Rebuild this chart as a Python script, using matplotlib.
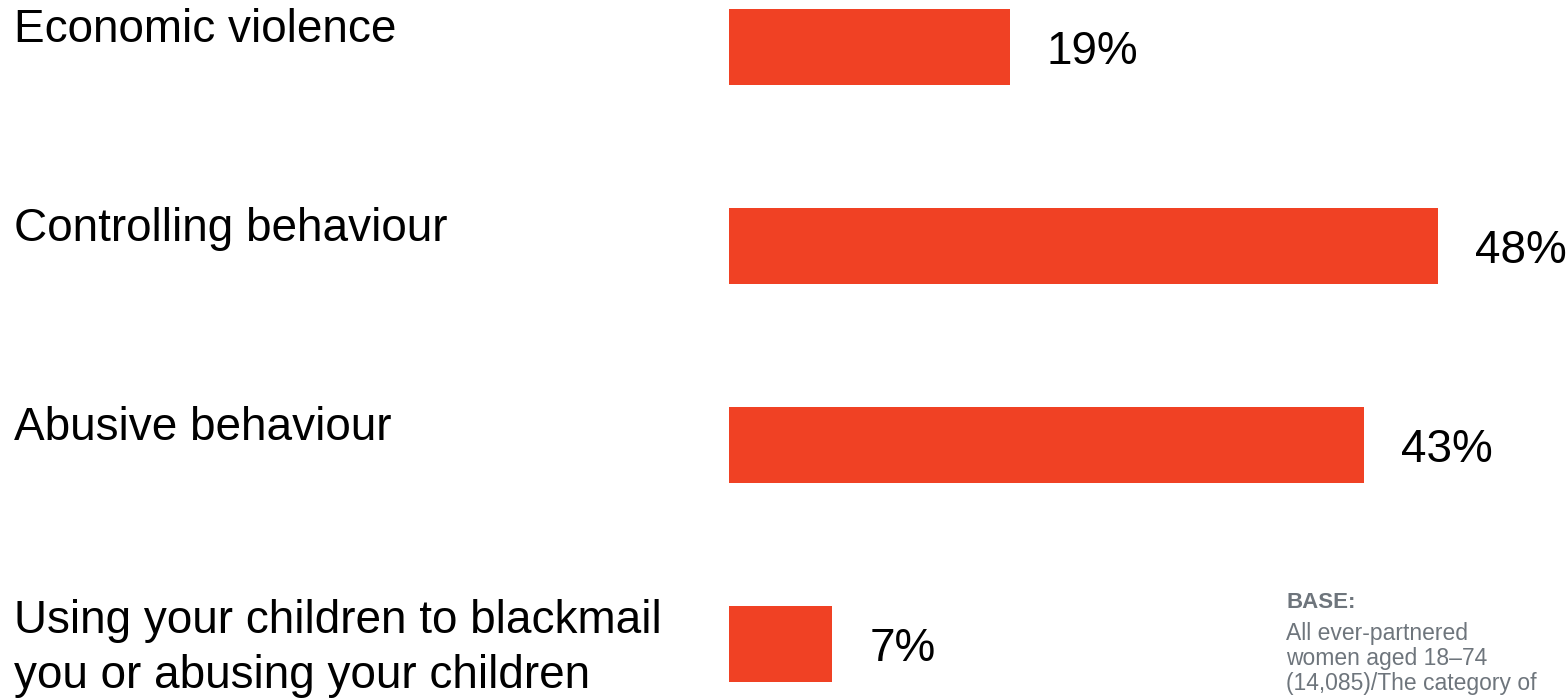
import matplotlib.pyplot as plt
from matplotlib.transforms import blended_transform_factory

# --- data ---
categories = [
    'Economic violence',
    'Controlling behaviour',
    'Abusive behaviour',
    'Using your children to blackmail\nyou or abusing your children',
]
values = [19, 48, 43, 7]
value_labels = ['19%', '48%', '43%', '7%']
base_title = 'BASE:'
base_lines = ['All ever-partnered', 'women aged 18\u201374', '(14,085)/The category of']

BAR_COLOR = '#F04124'
W, H = 1567, 699
DPI = 100
PX_PER_UNIT = 14.77   # pixels per percentage point
ROW = 199.0           # pixels between bar centres

plt.rcParams['font.family'] = ['Liberation Sans', 'DejaVu Sans']

fig = plt.figure(figsize=(W / DPI, H / DPI), dpi=DPI)
ax_left = 729 / W
xmax = 56
ax = fig.add_axes([ax_left, 0, xmax * PX_PER_UNIT / W, 1])
ax.set_xlim(0, xmax)
ax.set_ylim(3 + (H - 644) / ROW, -47.5 / ROW)
ax.axis('off')

bar_h = 76 / ROW
pos = list(range(len(categories)))
ax.barh(pos, values, height=bar_h, color=BAR_COLOR, edgecolor='none')

# category labels on the far left, baseline measured from the bar top (px)
tr = blended_transform_factory(fig.transFigure, ax.transData)
for i, lab in zip(pos, categories):
    lines = lab.split('\n')
    offsets = [33] if len(lines) == 1 else [27, 82]
    for line, off in zip(lines, offsets):
        ax.text(14 / W, i - bar_h / 2 + off / ROW, line, transform=tr,
                fontsize=33, va='baseline', ha='left', color='black')

# value labels
for i, v, t in zip(pos, values, value_labels):
    ax.text(v + 37 / PX_PER_UNIT, i + 17 / ROW, t, fontsize=33,
            va='baseline', ha='left', color='black')

# base note, bottom right (runs off the canvas as in the source)
gray = '#6E757C'
fig.text(1286 / W, 1 - 608 / H, base_title, fontsize=16, fontweight='bold',
         color=gray, va='baseline', ha='left')
for k, line in enumerate(base_lines):
    fig.text(1286 / W, 1 - (640 + 25 * k) / H, line, fontsize=16.5,
             color=gray, va='baseline', ha='left')

fig.savefig('out.png', dpi=DPI)
